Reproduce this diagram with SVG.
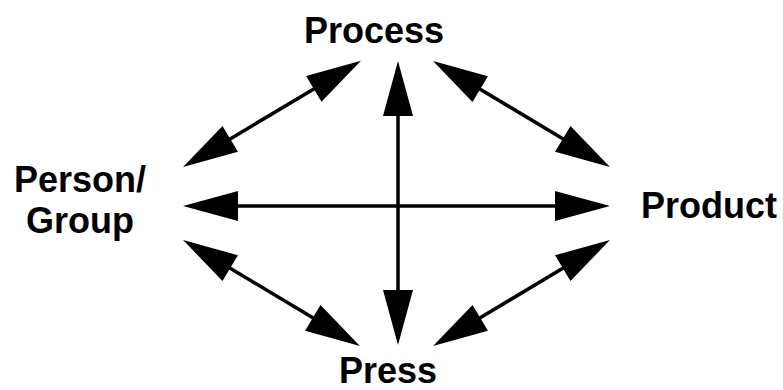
<svg xmlns="http://www.w3.org/2000/svg" width="783" height="390" viewBox="0 0 783 390">
<style>
.lbl{font-family:"Liberation Sans",Arial,sans-serif;font-weight:bold;font-size:36px;fill:#000;text-anchor:middle}
.conn line{stroke:#000;stroke-width:3.5;fill:none;marker-start:url(#ah);marker-end:url(#ah)}
</style>
<defs>
<marker id="ah" markerUnits="userSpaceOnUse" markerWidth="60" markerHeight="40" refX="0" refY="0" orient="auto-start-reverse" overflow="visible">
<path d="M-2,-15 L53,0 L-2,15 Z" fill="#000"/>
</marker>
</defs>
<rect width="783" height="390" fill="#fff"/>
<g id="connectors" class="conn">
<line x1="398" y1="114" x2="398" y2="292"/>
<line x1="236" y1="206" x2="557" y2="206"/>
<line x1="228.5" y1="139.9" x2="315.5" y2="87.9"/>
<line x1="478.5" y1="88.2" x2="564.5" y2="139.8"/>
<line x1="228.5" y1="267.2" x2="314.5" y2="318.8"/>
<line x1="564.5" y1="267.2" x2="478.5" y2="318.8"/>
</g>
<g id="process"><text class="lbl" x="374" y="43">Process</text></g>
<g id="press"><text class="lbl" x="388" y="383">Press</text></g>
<g id="product"><text class="lbl" x="709" y="218">Product</text></g>
<g id="person"><text class="lbl" x="80" y="192">Person/</text><text class="lbl" x="80" y="233">Group</text></g>
</svg>
